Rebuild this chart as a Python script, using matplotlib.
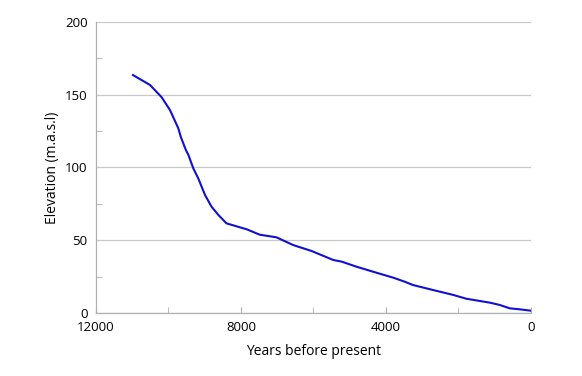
import matplotlib
matplotlib.use("Agg")
from matplotlib import pyplot as plt
from matplotlib.ticker import MultipleLocator

plt.rcParams['font.family'] = ['Open Sans', 'DejaVu Sans']

# Curve (years before present, metres a.s.l.)
years = [10980, 10510, 10190, 9960, 9730, 9660, 9520, 9450, 9315, 9180,
         8990, 8810, 8625, 8400, 7840, 7480, 7020, 6560, 6050, 5450,
         5220, 4810, 4210, 3800, 3480, 3250, 2700, 2140, 1780, 1130,
         855, 580, 300, 10]
elevation = [163.5, 156.7, 148.3, 139.5, 127, 121, 112, 108.6, 99.4, 92.6,
             81, 73, 67.4, 61.6, 57.5, 53.8, 52, 46.7, 42.6, 36.4,
             35.3, 31.8, 27.3, 24.3, 21.5, 19.2, 15.8, 12.4, 9.8, 7.1,
             5.5, 3.2, 2.5, 1.6]

x_ticks = [12000, 8000, 4000, 0]
y_ticks = [0, 50, 100, 150, 200]

fig = plt.figure(figsize=(5.82, 3.76), dpi=100)
ax = fig.add_axes([0.165, 0.1676, 0.747, 0.774])

ax.plot(years, elevation, color='#1010d0', linewidth=1.5)

ax.set_xlim(12000, 0)
ax.set_ylim(0, 200)
ax.set_xticks(x_ticks)
ax.xaxis.set_minor_locator(MultipleLocator(2000))
ax.set_yticks(y_ticks)
ax.yaxis.set_minor_locator(MultipleLocator(25))

ax.grid(axis='y', which='major', color='#c8c8c8', linewidth=0.9)
ax.set_axisbelow(True)

for s in ['top', 'right']:
    ax.spines[s].set_visible(False)
for s in ['left', 'bottom']:
    ax.spines[s].set_color('#b0b0b0')
    ax.spines[s].set_linewidth(0.9)

ax.tick_params(axis='both', which='both', direction='in', color='#b0b0b0',
               labelsize=9.5, length=4)
ax.tick_params(axis='y', which='major', length=0, pad=6)
ax.tick_params(axis='x', which='major', pad=6)

ax.set_xlabel('Years before present', fontsize=10, labelpad=7)
ax.set_ylabel('Elevation (m.a.s.l)', fontsize=10, labelpad=4)

fig.savefig('out.png', dpi=100)
